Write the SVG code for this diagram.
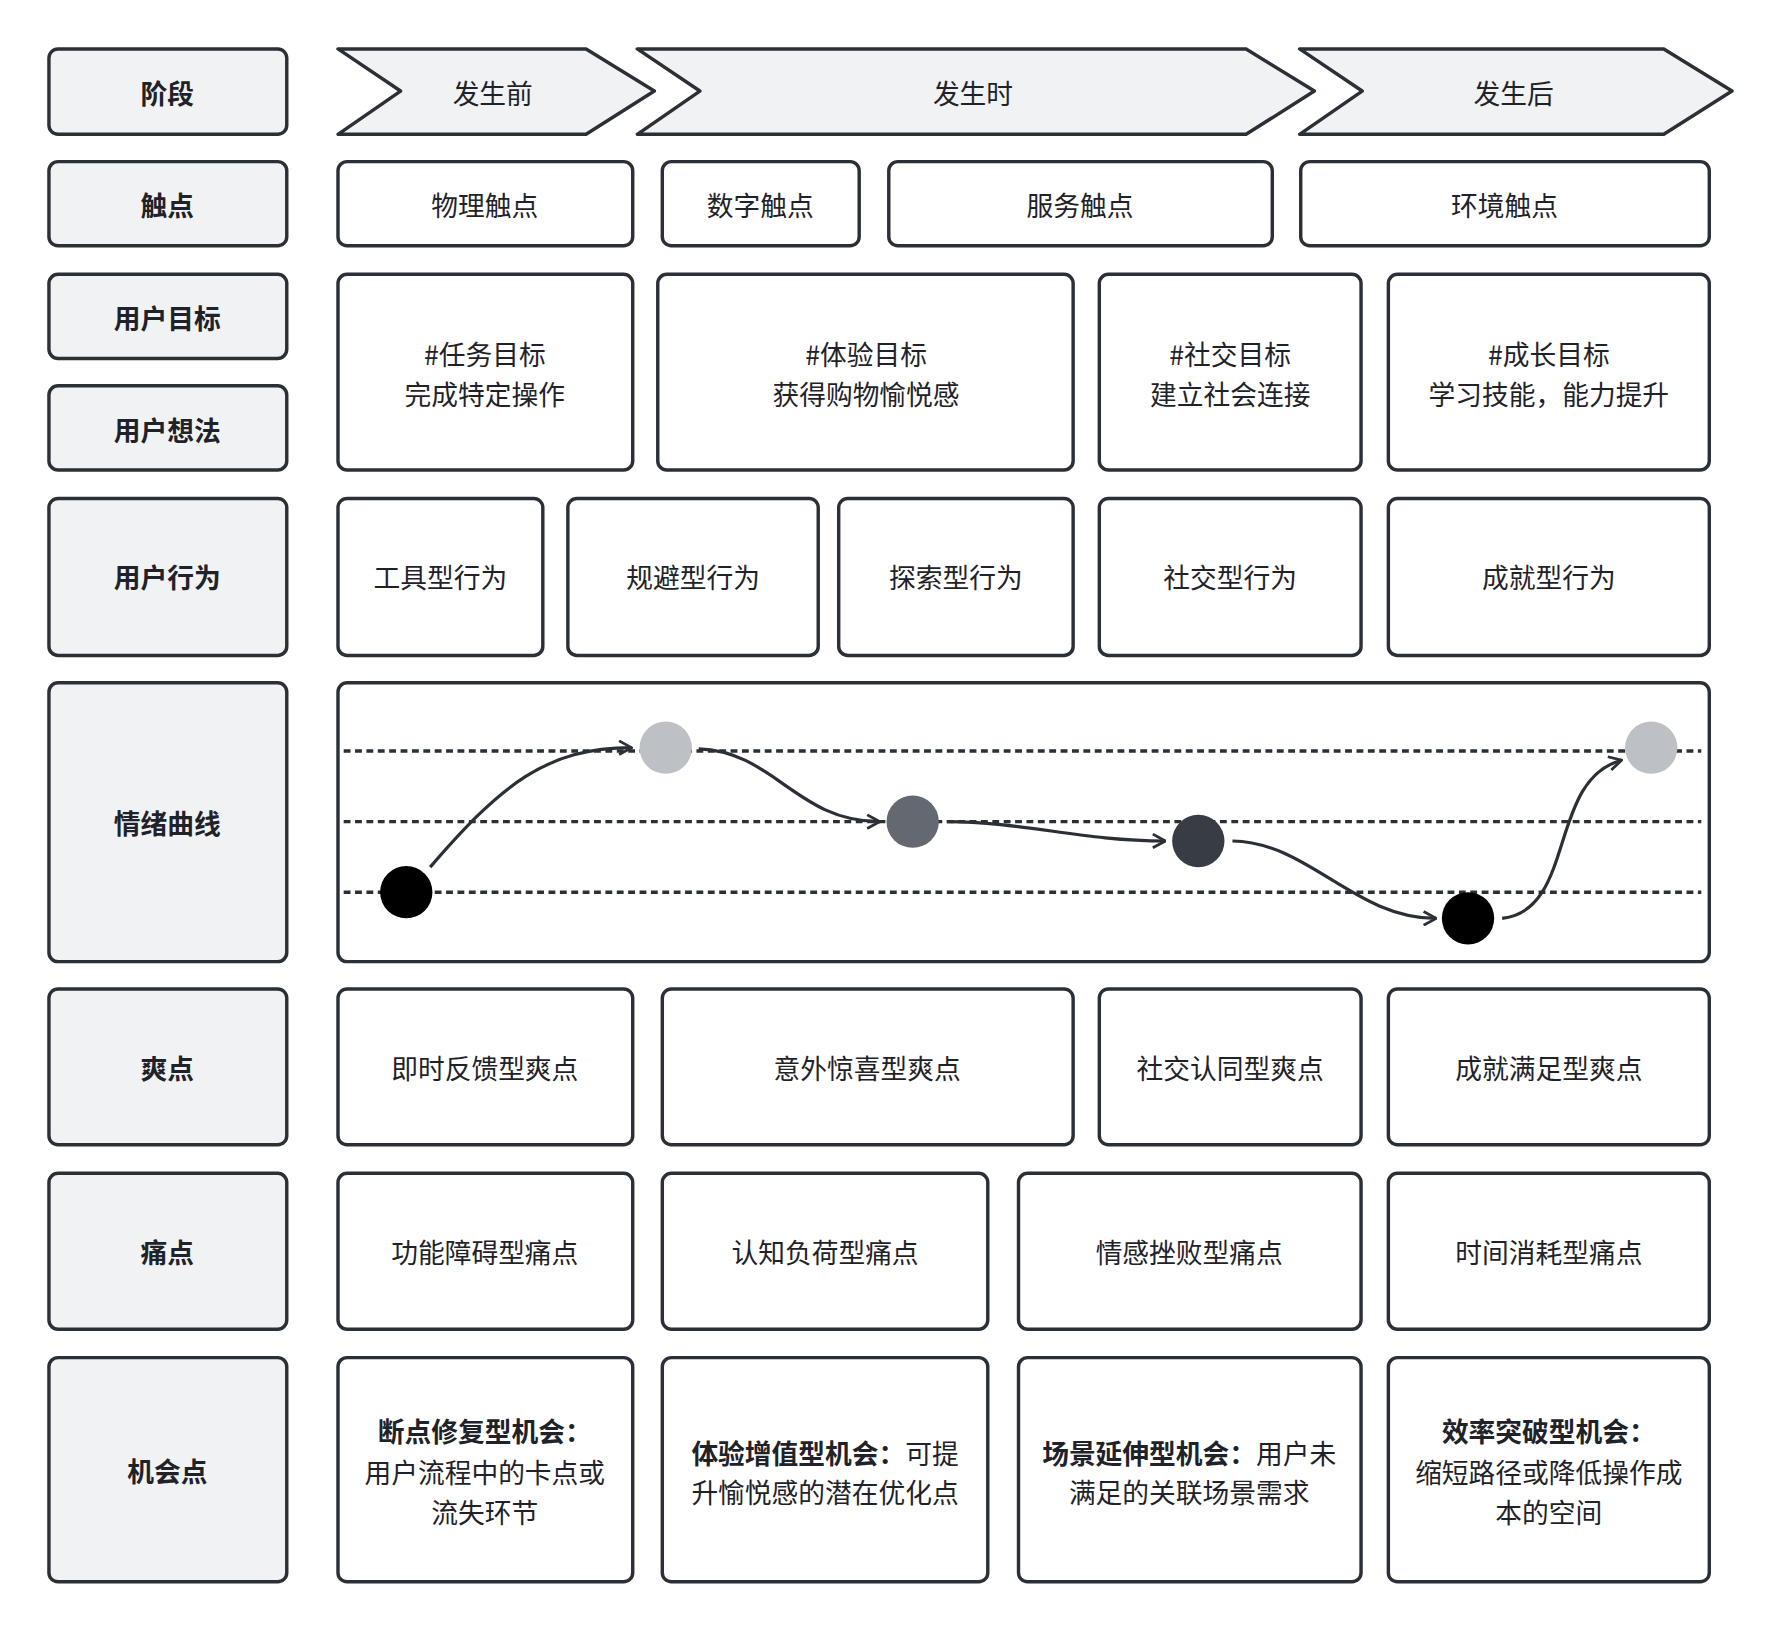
<svg xmlns="http://www.w3.org/2000/svg" width="1782" height="1632" viewBox="0 0 1782 1632">
<style>
.h rect,.h polygon{fill:#f1f2f4;stroke:#2b2f36;stroke-width:3}
.b rect{fill:#fff;stroke:#2b2f36;stroke-width:3}
text{font-family:"Noto Sans CJK SC","Noto Sans",sans-serif;font-size:23.5px;fill:#1f2329;text-anchor:middle;dominant-baseline:central}
.h text{font-weight:bold}
.bd{font-weight:bold}
.dl{stroke:#2b2f36;stroke-width:3;stroke-dasharray:6 4}
.cv{fill:none;stroke:#2b2f36;stroke-width:2.8;marker-end:url(#ar)}
</style>
<defs><marker id="ar" viewBox="0 0 14 14" refX="13" refY="7" markerWidth="14" markerHeight="14" markerUnits="userSpaceOnUse" orient="auto"><path d="M2,1 L13,7 L2,13" fill="none" stroke="#2b2f36" stroke-width="2.4"/></marker></defs>
<rect width="1782" height="1632" fill="#fff"/>
<g transform="scale(1.138)">
<g class="h" id="l1"><rect x="43" y="43" width="209" height="75" rx="8"/><text x="147" y="81">阶段</text></g>
<g class="h" id="l2"><rect x="43" y="142" width="209" height="74" rx="8"/><text x="147" y="180">触点</text></g>
<g class="h" id="l3"><rect x="43" y="241" width="209" height="74" rx="8"/><text x="147" y="279">用户目标</text></g>
<g class="h" id="l4"><rect x="43" y="339" width="209" height="74" rx="8"/><text x="147" y="377">用户想法</text></g>
<g class="h" id="l5"><rect x="43" y="438" width="209" height="138" rx="8"/><text x="147" y="507">用户行为</text></g>
<g class="h" id="l6"><rect x="43" y="600" width="209" height="245" rx="8"/><text x="147" y="723">情绪曲线</text></g>
<g class="h" id="l7"><rect x="43" y="869" width="209" height="137" rx="8"/><text x="147" y="938">爽点</text></g>
<g class="h" id="l8"><rect x="43" y="1031" width="209" height="137" rx="8"/><text x="147" y="1100">痛点</text></g>
<g class="h" id="l9"><rect x="43" y="1193" width="209" height="197" rx="8"/><text x="147" y="1292">机会点</text></g>

<g class="h" id="s1"><polygon points="297,43 515,43 575,80 515,118 297,118 352,80" stroke-linejoin="round"/><text x="433" y="81" style="font-weight:normal">发生前</text></g>
<g class="h" id="s2"><polygon points="560,43 1095,43 1155,80 1095,118 560,118 615,80" stroke-linejoin="round"/><text x="855" y="81" style="font-weight:normal">发生时</text></g>
<g class="h" id="s3"><polygon points="1142,43 1462,43 1522,80 1462,118 1142,118 1197,80" stroke-linejoin="round"/><text x="1330" y="81" style="font-weight:normal">发生后</text></g>

<g class="b" id="t1"><rect x="297" y="142" width="259" height="74" rx="8"/><text x="426" y="180">物理触点</text></g>
<g class="b" id="t2"><rect x="582" y="142" width="173" height="74" rx="8"/><text x="668" y="180">数字触点</text></g>
<g class="b" id="t3"><rect x="781" y="142" width="337" height="74" rx="8"/><text x="949" y="180">服务触点</text></g>
<g class="b" id="t4"><rect x="1143" y="142" width="359" height="74" rx="8"/><text x="1322" y="180">环境触点</text></g>

<g class="b" id="g1"><rect x="297" y="241" width="259" height="172" rx="8"/><text x="426" y="311">#任务目标</text><text x="426" y="346">完成特定操作</text></g>
<g class="b" id="g2"><rect x="578" y="241" width="365" height="172" rx="8"/><text x="761" y="311">#体验目标</text><text x="761" y="346">获得购物愉悦感</text></g>
<g class="b" id="g3"><rect x="966" y="241" width="230" height="172" rx="8"/><text x="1081" y="311">#社交目标</text><text x="1081" y="346">建立社会连接</text></g>
<g class="b" id="g4"><rect x="1220" y="241" width="282" height="172" rx="8"/><text x="1361" y="311">#成长目标</text><text x="1361" y="346">学习技能，能力提升</text></g>

<g class="b" id="u1"><rect x="297" y="438" width="180" height="138" rx="8"/><text x="387" y="507">工具型行为</text></g>
<g class="b" id="u2"><rect x="499" y="438" width="220" height="138" rx="8"/><text x="609" y="507">规避型行为</text></g>
<g class="b" id="u3"><rect x="737" y="438" width="206" height="138" rx="8"/><text x="840" y="507">探索型行为</text></g>
<g class="b" id="u4"><rect x="966" y="438" width="230" height="138" rx="8"/><text x="1081" y="507">社交型行为</text></g>
<g class="b" id="u5"><rect x="1220" y="438" width="282" height="138" rx="8"/><text x="1361" y="507">成就型行为</text></g>

<g class="b" id="emo"><rect x="297" y="600" width="1205" height="245" rx="8"/>
<line class="dl" x1="302" y1="660" x2="1495" y2="660"/>
<line class="dl" x1="302" y1="722" x2="1495" y2="722"/>
<line class="dl" x1="302" y1="784" x2="1495" y2="784"/>
</g>
<g id="connectors">
<path class="cv" d="M378,762 C440,690 480,657 555,657"/>
<path class="cv" d="M614,658 C680,660 700,722 773,722"/>
<path class="cv" d="M832,722 C900,722 950,739 1024,739"/>
<path class="cv" d="M1083,739 C1150,740 1190,807 1262,807"/>
<path class="cv" d="M1320,807 C1385,800 1360,685 1425,668"/>
</g>
<g id="dots">
<circle cx="357" cy="784" r="23" fill="#000"/>
<circle cx="585" cy="657" r="23" fill="#bdc0c4"/>
<circle cx="802" cy="722" r="23" fill="#636871"/>
<circle cx="1053" cy="739" r="23" fill="#383c44"/>
<circle cx="1290" cy="807" r="23" fill="#000"/>
<circle cx="1451" cy="657" r="23" fill="#bdc0c4"/>
</g>

<g class="b" id="p1"><rect x="297" y="869" width="259" height="137" rx="8"/><text x="426" y="938">即时反馈型爽点</text></g>
<g class="b" id="p2"><rect x="582" y="869" width="361" height="137" rx="8"/><text x="762" y="938">意外惊喜型爽点</text></g>
<g class="b" id="p3"><rect x="966" y="869" width="230" height="137" rx="8"/><text x="1081" y="938">社交认同型爽点</text></g>
<g class="b" id="p4"><rect x="1220" y="869" width="282" height="137" rx="8"/><text x="1361" y="938">成就满足型爽点</text></g>

<g class="b" id="q1"><rect x="297" y="1031" width="259" height="137" rx="8"/><text x="426" y="1100">功能障碍型痛点</text></g>
<g class="b" id="q2"><rect x="582" y="1031" width="286" height="137" rx="8"/><text x="725" y="1100">认知负荷型痛点</text></g>
<g class="b" id="q3"><rect x="895" y="1031" width="301" height="137" rx="8"/><text x="1045" y="1100">情感挫败型痛点</text></g>
<g class="b" id="q4"><rect x="1220" y="1031" width="282" height="137" rx="8"/><text x="1361" y="1100">时间消耗型痛点</text></g>

<g class="b" id="o1"><rect x="297" y="1193" width="259" height="197" rx="8"/><text x="426" y="1257" class="bd">断点修复型机会：</text><text x="426" y="1293">用户流程中的卡点或</text><text x="426" y="1328">流失环节</text></g>
<g class="b" id="o2"><rect x="582" y="1193" width="286" height="197" rx="8"/><text x="725" y="1276"><tspan class="bd">体验增值型机会：</tspan>可提</text><text x="725" y="1311">升愉悦感的潜在优化点</text></g>
<g class="b" id="o3"><rect x="895" y="1193" width="301" height="197" rx="8"/><text x="1045" y="1276"><tspan class="bd">场景延伸型机会：</tspan>用户未</text><text x="1045" y="1311">满足的关联场景需求</text></g>
<g class="b" id="o4"><rect x="1220" y="1193" width="282" height="197" rx="8"/><text x="1361" y="1257" class="bd">效率突破型机会：</text><text x="1361" y="1293">缩短路径或降低操作成</text><text x="1361" y="1328">本的空间</text></g>
</g>
</svg>
